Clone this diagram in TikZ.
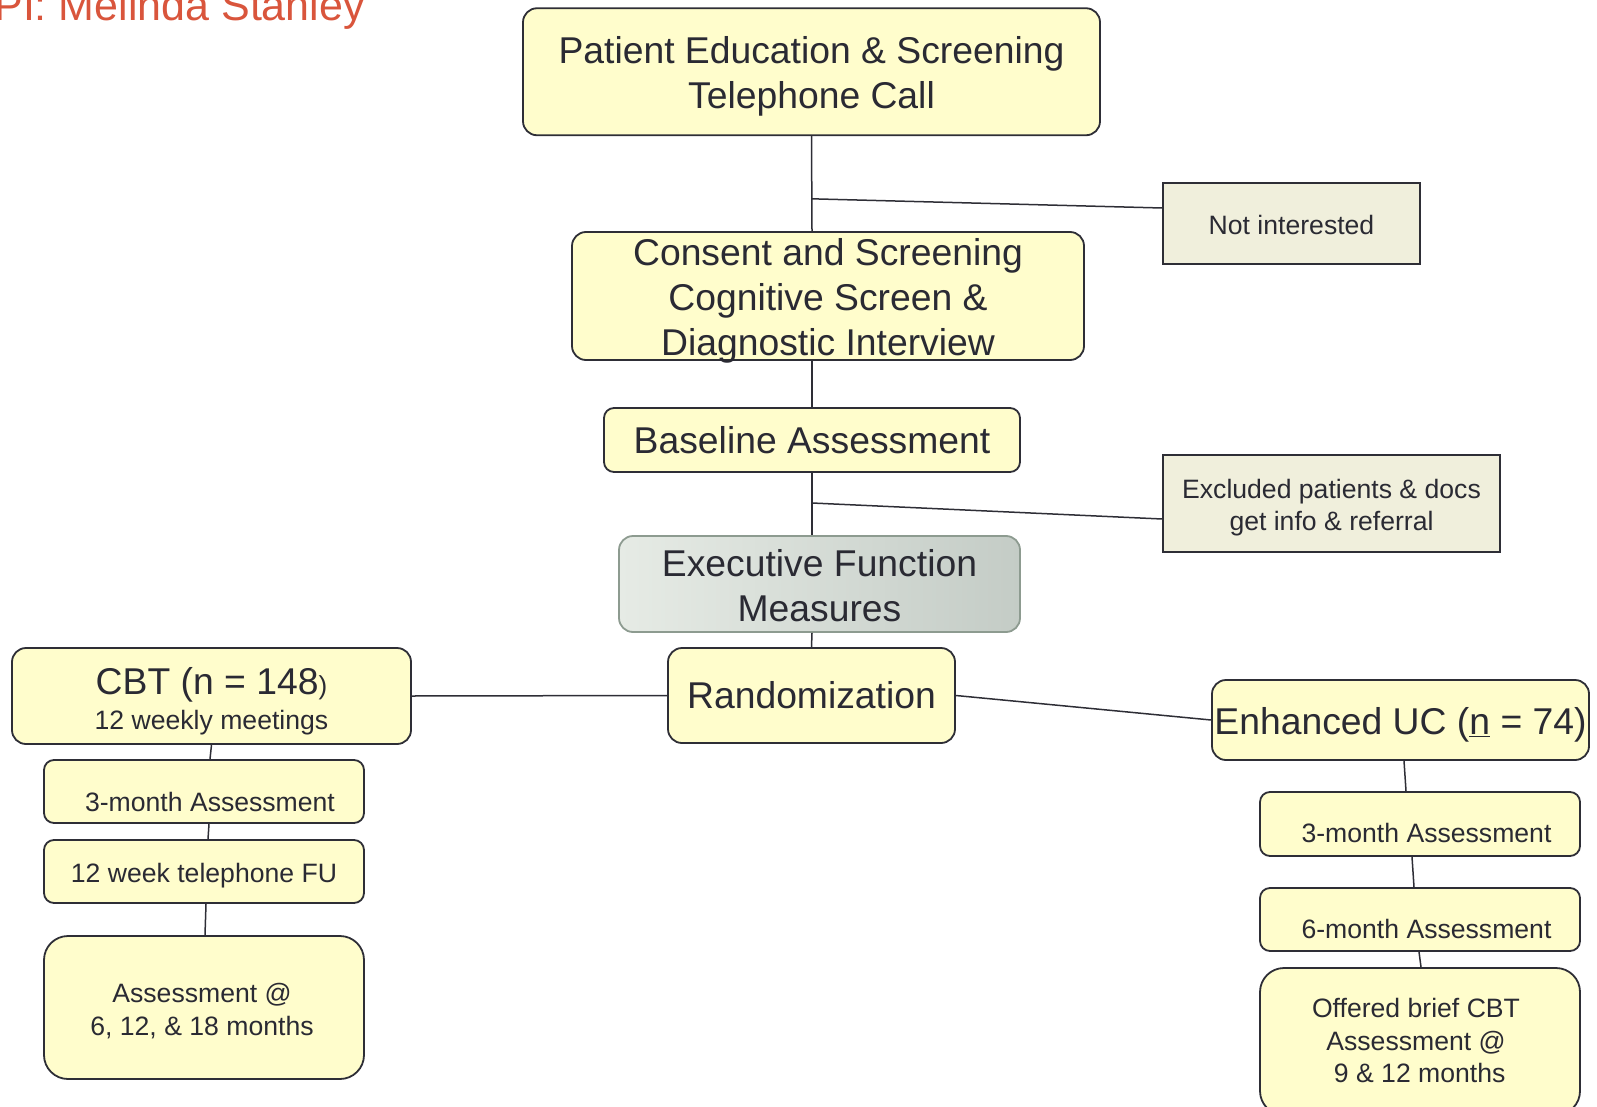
\documentclass[tikz,border=0pt]{standalone}
\usepackage{fontspec}
\setmainfont{Liberation Sans}
\usetikzlibrary{calc}
\definecolor{fillY}{HTML}{FFFDCC}
\definecolor{fillB}{HTML}{F0EFDC}
\definecolor{edgec}{HTML}{2E2E36}
\definecolor{ink}{HTML}{2A2A33}
\definecolor{titlered}{HTML}{D9553C}
\definecolor{exL}{HTML}{E6EBE5}
\definecolor{exR}{HTML}{C4CCC6}
\definecolor{exE}{HTML}{8D9B90}
\newcommand\bigf{\fontsize{37.3}{45}\selectfont}
\newcommand\smf{\fontsize{26.6}{32.5}\selectfont}
\newcommand\nudge[3]{\raisebox{#2}[\height][\depth]{\hspace*{#1}#3\hspace*{-#1}}}
\newcommand\mlines[1]{\begin{tabular}{@{}c@{}}#1\end{tabular}}
\tikzset{
  ybox/.style={draw=edgec, line width=1.8pt, fill=fillY, rounded corners=14pt, text=ink, align=center, inner sep=0pt},
  bbox/.style={draw=edgec, line width=1.8pt, fill=fillB, text=ink, align=center, inner sep=0pt},
  exbox/.style={draw=exE, line width=1.8pt, left color=exL, right color=exR, rounded corners=14pt, text=ink, align=center, inner sep=0pt},
  link/.style={draw=edgec, line width=1.5pt},
}
\begin{document}
\begin{tikzpicture}[x=1pt, y=-1pt]
\useasboundingbox (0,0) rectangle (1597,1107);
\node[anchor=base east, inner sep=0pt, text=titlered] (title) at (365,21) {\fontsize{43}{43}\selectfont PI: Melinda Stanley};

\node[ybox, minimum width=577, minimum height=127, font=\bigf] (pe) at (811.5,71.75) {\nudge{0pt}{-5pt}{\mlines{Patient Education \& Screening\\Telephone Call}}};
\node[bbox, minimum width=257, minimum height=81, font=\smf] (noti) at (1291.5,223.5) {\nudge{0pt}{-1pt}{Not interested}};
\node[ybox, inner ysep=-6pt, minimum width=512, minimum height=128, font=\bigf] (cons) at (828,296) {\nudge{0pt}{-5pt}{\mlines{Consent and Screening\\Cognitive Screen \&\\Diagnostic Interview}}};
\node[ybox, rounded corners=10pt, minimum width=416, minimum height=64, font=\bigf] (base) at (812,440) {Baseline Assessment};
\node[bbox, minimum width=337, minimum height=97, font=\smf] (excl) at (1331.5,503.5) {\nudge{0pt}{-4.5pt}{\mlines{Excluded patients \& docs\\get info \& referral}}};
\node[exbox, minimum width=401, minimum height=96, font=\bigf] (exec) at (819.5,584) {\nudge{0pt}{-6pt}{\mlines{Executive Function\\Measures}}};
\node[ybox, minimum width=287, minimum height=95, font=\bigf] (rand) at (811.5,695.5) {Randomization};
\node[ybox, minimum width=399, minimum height=96, font=\smf] (cbt) at (211.5,696) {\nudge{0pt}{-7.5pt}{\mlines{\fontsize{37.3}{37}\selectfont CBT (n = 148{\fontsize{26}{26}\selectfont )}\\[2.5pt]12 weekly meetings}}};
\node[ybox, minimum width=377, minimum height=80, font=\bigf] (euc) at (1400.5,720) {\nudge{0pt}{-5pt}{Enhanced UC (\underline{n} = 74)}};

\node[ybox, rounded corners=10pt, minimum width=320, minimum height=63, font=\smf] (m3l) at (204,791.5) {\nudge{6pt}{-10pt}{3-month Assessment}};
\node[ybox, rounded corners=10pt, minimum width=320, minimum height=63, font=\smf] (tel) at (204,871.5) {\nudge{0pt}{-4.5pt}{12 week telephone FU}};
\node[ybox, rounded corners=24pt, minimum width=320, minimum height=143, font=\smf] (asl) at (204,1007.5) {\nudge{-2pt}{-5pt}{\mlines{Assessment @\\6, 12, \& 18 months}}};

\node[ybox, rounded corners=10pt, minimum width=320, minimum height=64, font=\smf] (m3r) at (1420,824) {\nudge{6.5pt}{-9pt}{3-month Assessment}};
\node[ybox, rounded corners=10pt, minimum width=320, minimum height=63, font=\smf] (m6r) at (1420,919.5) {\nudge{6.5pt}{-9.5pt}{6-month Assessment}};
\node[ybox, rounded corners=24pt, minimum width=320, minimum height=147, font=\smf] (off) at (1420,1041.5) {\nudge{-4pt}{-2pt}{\mlines{Offered brief CBT\\Assessment @\\\ 9 \& 12 months}}};

% connectors
\draw[link] (pe.south) -- ([xshift=-16pt]cons.north);
\draw[link] ($(pe.south)!0.66!([xshift=-16pt]cons.north)$) -- ([yshift=15.5pt]noti.west);
\draw[link] ([xshift=-16pt]cons.south) -- (base.north);
\draw[link] (base.south) -- ([xshift=-7.5pt]exec.north);
\draw[link] ($(base.south)!0.484!([xshift=-7.5pt]exec.north)$) -- ([yshift=-15.5pt]excl.west);
\draw[link] ([xshift=-7.5pt]exec.south) -- (rand.north);
\draw[link] (rand.west) -- (cbt.east);
\draw[link] (rand.east) -- (euc.west);
\draw[link] (cbt.south) -- ([xshift=6pt]m3l.north);
\draw[link] ([xshift=5pt]m3l.south) -- ([xshift=4pt]tel.north);
\draw[link] ([xshift=2pt]tel.south) -- ([xshift=1pt]asl.north);
\draw[link] ([xshift=3.5pt]euc.south) -- ([xshift=-14pt]m3r.north);
\draw[link] ([xshift=-8pt]m3r.south) -- ([xshift=-6pt]m6r.north);
\draw[link] ([xshift=-1pt]m6r.south) -- ([xshift=1pt]off.north);
\end{tikzpicture}
\end{document}
